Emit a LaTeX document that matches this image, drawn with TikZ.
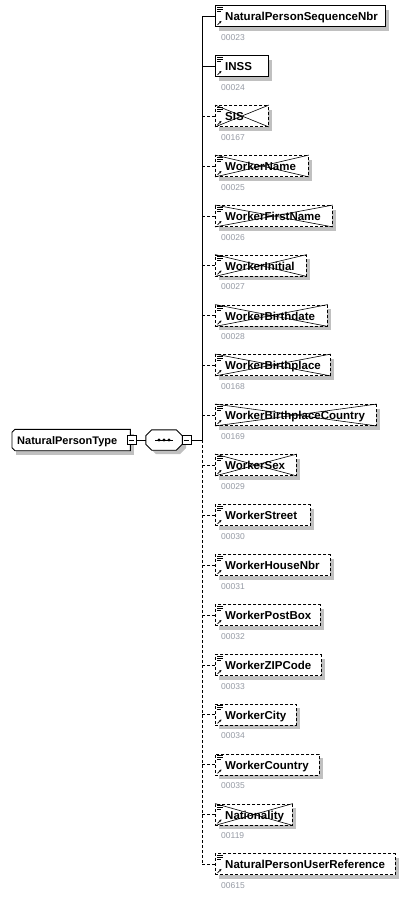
\documentclass[tikz,border=0pt]{standalone}
\usepackage{fontspec}
\setmainfont{Liberation Sans}
\usetikzlibrary{arrows.meta}
\definecolor{shadowc}{RGB}{192,192,192}
\definecolor{numc}{RGB}{150,155,165}
\tikzset{
  elbox/.style={draw, fill=white, line width=0.9pt, minimum height=21pt, inner sep=0pt},
  reqbox/.style={elbox},
  optbox/.style={elbox, dash pattern=on 3pt off 2pt},
  eltext/.style={font=\fontsize{11.5}{13}\selectfont\bfseries, inner sep=0pt},
  typetext/.style={font=\fontsize{11}{13}\selectfont\bfseries, inner sep=0pt},
  numtext/.style={font=\fontsize{8.5}{10}\selectfont, text=numc, inner sep=0pt},
  reqline/.style={line width=0.9pt},
  optline/.style={line width=0.9pt, dash pattern=on 3pt off 2pt},
  crossline/.style={line width=0.6pt},
  iconline/.style={line width=0.7pt},
  minusbox/.style={draw, fill=white, line width=0.8pt, minimum size=9pt, inner sep=0pt},
  ghost/.style={draw=none, inner sep=0pt},
}
\newcommand\elem[7]{%
  \coordinate (#1s) at (202,#2);
  \fill[shadowc] (219,#2-6.5) rectangle (#3+4,#2+14.5);
  \node[#6, anchor=west, minimum width={(#3-215)*1pt}] (#1) at (215,#2) {};
  \draw[#7] (#1s) -- (#1.west);
  \node[eltext, anchor=base west] (#1t) at (225,#2+4.5) {#4};
  \node[numtext, anchor=base west] (#1n) at (221,#2+24) {#5};
  \draw[iconline] ([shift={(2,2)}]#1.north west) -- ++(6,0)
    ([shift={(2,4)}]#1.north west) -- ++(6,0)
    ([shift={(2,6)}]#1.north west) -- ++(4,0);
  \draw[iconline, -{Stealth[length=2.5pt,width=2.5pt]}] ([shift={(2.5,-2)}]#1.south west) -- ++(4,-4);
}
\newcommand\xcr[1]{\draw[crossline] (#1.north west) -- (#1.south east) (#1.south west) -- (#1.north east);}
\begin{document}
\begin{tikzpicture}[x=1pt,y=-1pt]
\useasboundingbox[fill=white] (0,0) rectangle (413,898);

% elements
\elem{e0}{16}{385}{NaturalPersonSequenceNbr}{00023}{reqbox}{reqline}
\elem{e1}{66}{268}{INSS}{00024}{reqbox}{reqline}
\elem{e2}{116}{268}{SIS}{00167}{optbox}{optline}\xcr{e2}
\elem{e3}{166}{308}{WorkerName}{00025}{optbox}{optline}\xcr{e3}
\elem{e4}{216}{332}{WorkerFirstName}{00026}{optbox}{optline}\xcr{e4}
\elem{e5}{265.5}{306}{WorkerInitial}{00027}{optbox}{optline}\xcr{e5}
\elem{e6}{315.5}{327}{WorkerBirthdate}{00028}{optbox}{optline}\xcr{e6}
\elem{e7}{365}{330}{WorkerBirthplace}{00168}{optbox}{optline}\xcr{e7}
\elem{e8}{415}{376}{WorkerBirthplaceCountry}{00169}{optbox}{optline}\xcr{e8}
\elem{e9}{465}{296}{WorkerSex}{00029}{optbox}{optline}\xcr{e9}
\elem{e10}{515}{310}{WorkerStreet}{00030}{optbox}{optline}
\elem{e11}{565}{330}{WorkerHouseNbr}{00031}{optbox}{optline}
\elem{e12}{615}{320}{WorkerPostBox}{00032}{optbox}{optline}
\elem{e13}{665}{321}{WorkerZIPCode}{00033}{optbox}{optline}
\elem{e14}{714.5}{296}{WorkerCity}{00034}{optbox}{optline}
\elem{e15}{764.5}{319}{WorkerCountry}{00035}{optbox}{optline}
\elem{e16}{814.5}{292}{Nationality}{00119}{optbox}{optline}\xcr{e16}
\elem{e17}{864}{395}{NaturalPersonUserReference}{00615}{optbox}{optline}

% spine
\coordinate (mid) at (202,440);
\draw[reqline] (e0s) -- (mid);
\draw[optline] (mid) -- (e17s);

% complex type box
\node[ghost, minimum width=118pt, minimum height=21pt, anchor=west] (type) at (12,440) {};
\fill[shadowc] (16,434) rectangle (134,455);
\draw[fill=white, line width=0.9pt] (type.north east) -- ([shift={(3,0)}]type.north west) -- ([shift={(0,3)}]type.north west)
  -- ([shift={(0,-3)}]type.south west) -- ([shift={(3,0)}]type.south west) -- (type.south east) -- cycle;
\node[typetext, anchor=base west] (typet) at (17,444.5) {NaturalPersonType};
\node[minusbox] (tm) at (131.5,440) {};
\draw[line width=0.8pt] ([xshift=2pt]tm.west) -- ([xshift=-2pt]tm.east);

% sequence compositor
\node[ghost, minimum width=36pt, minimum height=20pt] (seq) at (164,440) {};
\fill[shadowc] (156,434) -- (180,434) -- (186,440) -- (186,448) -- (180,454) -- (156,454) -- (150,448) -- (150,440) -- cycle;
\draw[fill=white, line width=0.9pt] ([shift={(6,0)}]seq.north west) -- ([shift={(-6,0)}]seq.north east)
  -- ([shift={(0,6)}]seq.north east) -- ([shift={(0,-6)}]seq.south east)
  -- ([shift={(-6,0)}]seq.south east) -- ([shift={(6,0)}]seq.south west)
  -- ([shift={(0,-6)}]seq.south west) -- ([shift={(0,6)}]seq.north west) -- cycle;
\draw[line width=0.9pt] (155,440) -- (173,440);
\fill (159,440) circle (1.7) (164,440) circle (1.7) (169,440) circle (1.7);
\node[minusbox] (sm) at (186.5,440) {};
\draw[line width=0.8pt] ([xshift=2pt]sm.west) -- ([xshift=-2pt]sm.east);

% connectors
\draw[reqline] (tm.east) -- (seq.west);
\draw[reqline] (sm.east) -- (mid);
\end{tikzpicture}
\end{document}
